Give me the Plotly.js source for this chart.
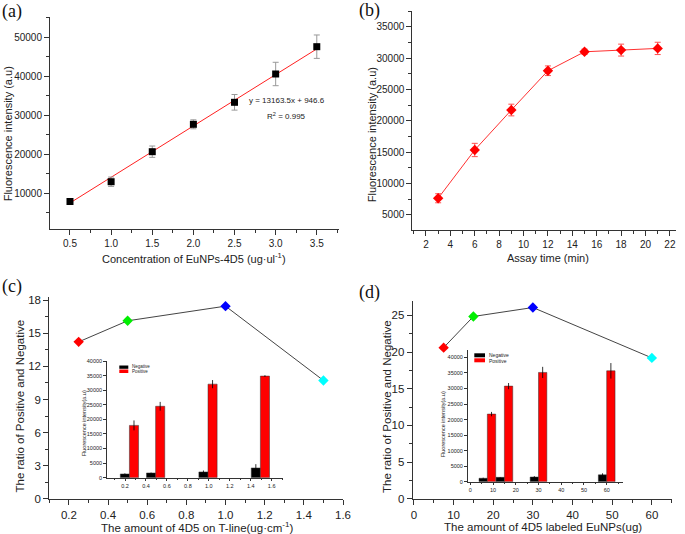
<!DOCTYPE html>
<html><head><meta charset="utf-8">
<script src="https://cdn.plot.ly/plotly-3.0.1.min.js"></script>
<style>html,body{margin:0;padding:0;background:#fff}#chart{width:685px;height:534px}</style>
</head><body><div id="chart"></div>
<script>
// (a) calibration
const concA = [0.5, 1.0, 1.5, 2.0, 2.5, 3.0, 3.5];
const intensityA = [7900, 12970, 20670, 27690, 33330, 40590, 47590];
const errA = [600, 1200, 1450, 1150, 2000, 3000, 3000];
const fitX = [0.5, 3.5];
const fitY = [7528.4, 47019.1];
// (b) assay time
const timeB = [3, 6, 9, 12, 15, 18, 21];
const intensityB = [7660, 15350, 21720, 27980, 31000, 31270, 31540];
const errB = [720, 1060, 930, 770, 420, 950, 980];
// (c) amount of 4D5 on T-line
const amountC = [0.25, 0.5, 1.0, 1.5];
const ratioC = [14.23, 16.14, 17.47, 10.73];
const negC = [1280, 1620, 1970, 3340];
const negErrC = [200, 150, 500, 1300];
const posC = [17930, 24480, 32070, 34830];
const posErrC = [1700, 1500, 1400, 300];
// (d) amount of 4D5 labeled EuNPs
const amountD = [7.5, 15, 30, 60];
const ratioD = [20.6, 24.85, 26.07, 19.2];
const negD = [1100, 1400, 1500, 2200];
const negErrD = [200, 100, 300, 500];
const posD = [21770, 30770, 35180, 35700];
const posErrD = [700, 1000, 1800, 2500];
const pointColors = ['#ff0000', '#00ee00', '#0000ff', '#00ffff'];

const W = 685, H = 534;
const px = v => v / W, py = v => 1 - v / H;
const SANS = '"Liberation Sans", Arial, sans-serif';

const traces = [
  {x: fitX, y: fitY, xaxis: 'x', yaxis: 'y', mode: 'lines', line: {color: '#ff2020', width: 1}},
  {x: concA, y: intensityA, xaxis: 'x', yaxis: 'y', mode: 'markers',
   marker: {symbol: 'square', size: 7, color: '#000'},
   error_y: {type: 'data', array: errA, color: '#999', thickness: 1, width: 3}},
  {x: timeB, y: intensityB, xaxis: 'x2', yaxis: 'y2', mode: 'lines+markers',
   line: {color: '#ff3030', width: 1},
   marker: {symbol: 'diamond', size: 8, color: '#ff0000'},
   error_y: {type: 'data', array: errB, color: '#ff5050', thickness: 1, width: 3}},
  {x: amountC, y: ratioC, xaxis: 'x3', yaxis: 'y3', mode: 'lines+markers',
   line: {color: '#444', width: 1},
   marker: {symbol: 'diamond', size: 8, color: pointColors}},
  {x: amountD, y: ratioD, xaxis: 'x4', yaxis: 'y4', mode: 'lines+markers',
   line: {color: '#444', width: 1},
   marker: {symbol: 'diamond', size: 8, color: pointColors}},
  {type: 'bar', name: 'Negative', x: amountC, y: negC, xaxis: 'x5', yaxis: 'y5',
   width: 0.087, offset: -0.095, marker: {color: '#000', line: {color: '#333', width: 0.5}},
   error_y: {type: 'data', array: negErrC, color: '#000', thickness: 0.8, width: 0}},
  {type: 'bar', name: 'Positive', x: amountC, y: posC, xaxis: 'x5', yaxis: 'y5',
   width: 0.087, offset: -0.008, marker: {color: '#ff0000', line: {color: '#333', width: 0.5}},
   error_y: {type: 'data', array: posErrC, color: '#000', thickness: 0.8, width: 0}},
  {type: 'bar', name: 'Negative', x: amountD, y: negD, xaxis: 'x6', yaxis: 'y6',
   width: 3.67, offset: -3.67, marker: {color: '#000', line: {color: '#333', width: 0.5}},
   error_y: {type: 'data', array: negErrD, color: '#000', thickness: 0.8, width: 0}},
  {type: 'bar', name: 'Positive', x: amountD, y: posD, xaxis: 'x6', yaxis: 'y6',
   width: 3.67, offset: 0, marker: {color: '#ff0000', line: {color: '#333', width: 0.5}},
   error_y: {type: 'data', array: posErrD, color: '#000', thickness: 0.8, width: 0}}
];

function axis(domain, range, dtick, minor, anchor, size, fmt, tl) {
  tl = tl || 5;
  const a = {domain: domain, range: range, dtick: dtick, anchor: anchor,
    showgrid: false, zeroline: false, showline: true, linecolor: '#333', linewidth: 1,
    ticks: 'outside', ticklen: tl, tickwidth: 1, tickcolor: '#333',
    tickfont: {size: size, color: '#222', family: SANS}, fixedrange: true};
  if (minor) a.minor = {ticks: 'outside', ticklen: tl * 0.6, dtick: minor, tickcolor: '#333', showgrid: false};
  if (fmt) a.tickformat = fmt;
  return a;
}

const layout = {
  width: W, height: H, margin: {l: 0, r: 0, t: 0, b: 0},
  paper_bgcolor: '#fff', plot_bgcolor: 'rgba(0,0,0,0)', showlegend: false, barmode: 'overlay',
  font: {family: SANS, color: '#222'},
  xaxis: axis([px(50), px(339)], [0.257, 3.77], 0.5, 0.25, 'y', 10, '.1f'),
  yaxis: axis([1 - 229 / H, 1 - 17 / H], [850, 55200], 10000, 5000, 'x', 10, 'd'),
  xaxis2: axis([px(412.3), px(676)], [0.88, 22.5], 2, 1, 'y2', 10),
  yaxis2: axis([1 - 230 / H, 1 - 11 / H], [2600, 37500], 5000, 2500, 'x2', 10, 'd'),
  xaxis3: axis([px(49.3), px(343)], [0.1, 1.6], 0.2, 0.1, 'y3', 11.5, '.1f'),
  yaxis3: axis([1 - 498.7 / H, 1 - 297 / H], [0, 18.3], 3, 1.5, 'x3', 11.5),
  xaxis4: axis([px(412.7), px(671.7)], [-0.3, 65], 10, 5, 'y4', 11.5),
  yaxis4: axis([1 - 498.7 / H, 1 - 300.7 / H], [0, 27], 5, 2.5, 'x4', 11.5),
  xaxis5: axis([px(106.7), px(282.7)], [0.025, 1.705], 0.2, 0.1, 'y5', 5.5, '.1f', 2.5),
  yaxis5: axis([1 - 477.7 / H, 1 - 361 / H], [0, 40000], 5000, null, 'x5', 5.5, 'd', 2.5),
  xaxis6: axis([px(467.5), px(623.3)], [-1.23, 67.3], 10, 5, 'y6', 5.5, null, 2.5),
  yaxis6: axis([1 - 481.7 / H, 1 - 350 / H], [0, 42400], 5000, null, 'x6', 5.5, 'd', 2.5),
  shapes: [
    {type: 'rect', xref: 'paper', yref: 'paper', x0: px(119.3), x1: px(128.3), y0: py(368.8), y1: py(365.5), fillcolor: '#000', line: {width: 0}},
    {type: 'rect', xref: 'paper', yref: 'paper', x0: px(119.3), x1: px(128.3), y0: py(373), y1: py(369.5), fillcolor: '#ff0000', line: {width: 0}},
    {type: 'rect', xref: 'paper', yref: 'paper', x0: px(474.3), x1: px(485), y0: py(357.3), y1: py(353.3), fillcolor: '#000', line: {width: 0}},
    {type: 'rect', xref: 'paper', yref: 'paper', x0: px(474.3), x1: px(485), y0: py(362.3), y1: py(358.3), fillcolor: '#ff0000', line: {width: 0}}
  ],
  annotations: []
};

function ann(text, x, y, size, opts) {
  layout.annotations.push(Object.assign({text: text, xref: 'paper', yref: 'paper', x: px(x), y: py(y),
    xanchor: 'center', yanchor: 'middle', showarrow: false,
    font: {size: size, color: '#222', family: SANS}}, opts || {}));
}
const serif = {family: '"Liberation Serif", "Times New Roman", serif', size: 18, color: '#111'};
ann('(a)', 12, 11, 18, {font: serif});
ann('(b)', 369, 10, 18, {font: serif});
ann('(c)', 12, 286, 18, {font: serif});
ann('(d)', 369, 292, 18, {font: serif});
ann('Fluorescence intensity (a.u)', 8.3, 134, 11, {textangle: -90});
ann('Concentration of EuNPs-4D5 (ug·ul<sup>-1</sup>)', 194, 258, 11);
ann('Fluorescence intensity (a.u)', 371.7, 134.5, 11, {textangle: -90});
ann('Assay time (min)', 547.5, 258, 11);
ann('The ratio of Positive and Negative', 19.5, 406, 11.5, {textangle: -90});
ann('The amount of 4D5 on T-line(ug·cm<sup>-1</sup>)', 197, 527, 11.5);
ann('The ratio of Positive and Negative', 387, 406, 11.5, {textangle: -90});
ann('The amount of 4D5 labeled EuNPs(ug)', 542.5, 527, 11.5);
ann('y = 13163.5x + 946.6', 247, 100, 8, {xanchor: 'left'});
ann('R<sup>2</sup> = 0.995', 265, 116, 8, {xanchor: 'left'});
ann('Fluorescence intensity(a.u)', 84.3, 423, 5.5, {textangle: -90});
ann('Fluorescence intensity(a.u)', 443.3, 424, 5.5, {textangle: -90});
ann('Negative', 130, 366.8, 4.5, {xanchor: 'left'});
ann('Positive', 130, 371.5, 4.5, {xanchor: 'left'});
ann('Negative', 486.5, 355.3, 5, {xanchor: 'left'});
ann('Positive', 486.5, 360.5, 5, {xanchor: 'left'});

Plotly.newPlot('chart', traces, layout, {staticPlot: true, displayModeBar: false});
</script>
</body></html>
